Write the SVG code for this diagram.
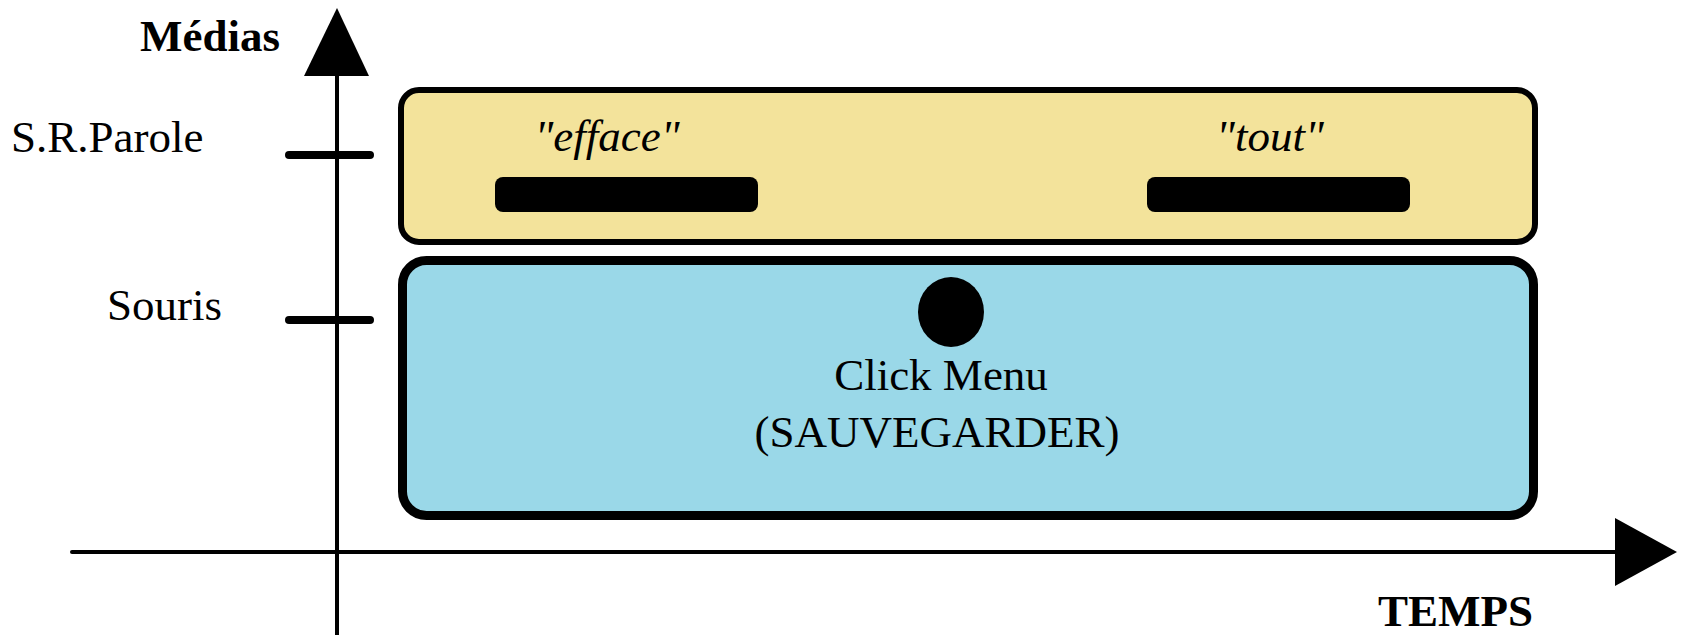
<svg xmlns="http://www.w3.org/2000/svg" width="1682" height="635" viewBox="0 0 1682 635">
<style>
.t{font-family:"Liberation Serif","Times New Roman",serif;font-size:45px;fill:#000}
.b{font-weight:bold}
.i{font-style:italic}
.axis{stroke:#000;stroke-width:4;fill:none}
.tick{stroke:#000;stroke-width:8;stroke-linecap:round}
.bar{fill:#000}
</style>
<rect width="1682" height="635" fill="#fff"/>
<g id="connectors">
<line class="axis" x1="337" y1="74" x2="337" y2="635"/>
<polygon points="337,8 304,76 369,76" fill="#000"/>
<line class="axis" x1="72" y1="552" x2="1617" y2="552" stroke-linecap="round"/>
<polygon points="1677,552 1615,518 1615,586" fill="#000"/>
<line class="tick" x1="289" y1="155" x2="370" y2="155"/>
<line class="tick" x1="289" y1="320" x2="370" y2="320"/>
</g>
<g id="labels">
<text class="t b" x="140" y="51">Médias</text>
<text class="t" x="11" y="152">S.R.Parole</text>
<text class="t" x="107" y="320">Souris</text>
<text class="t b" x="1378" y="626">TEMPS</text>
</g>
<g id="parole">
<rect x="401" y="90" width="1134" height="152" rx="18" fill="#f3e39b" stroke="#000" stroke-width="6"/>
<rect class="bar" x="495" y="177" width="263" height="35" rx="8"/>
<rect class="bar" x="1147" y="177" width="263" height="35" rx="8"/>
<text class="t i" x="607" y="151" text-anchor="middle">"efface"</text>
<text class="t i" x="1270" y="151" text-anchor="middle">"tout"</text>
</g>
<g id="souris">
<rect x="402.5" y="260.5" width="1131" height="255" rx="24" fill="#9ad8e8" stroke="#000" stroke-width="9"/>
<ellipse cx="951" cy="312" rx="33" ry="35" fill="#000"/>
<text class="t" x="941" y="390" text-anchor="middle">Click Menu</text>
<text class="t" x="937" y="447" text-anchor="middle">(SAUVEGARDER)</text>
</g>
</svg>
